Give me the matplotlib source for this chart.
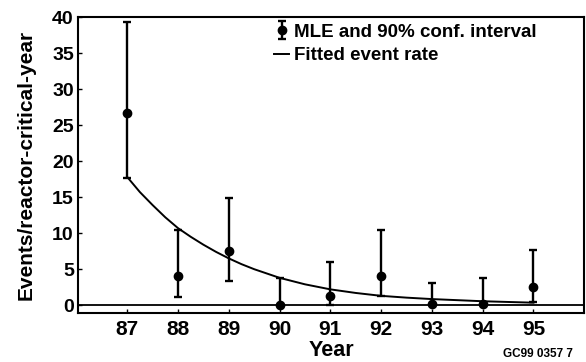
import numpy as np
import matplotlib.pyplot as plt

plt.rcParams['font.family'] = ['Liberation Sans', 'DejaVu Sans']
plt.rcParams['font.weight'] = 'bold'

years = [87, 88, 89, 90, 91, 92, 93, 94, 95]
mle = [26.7, 4.0, 7.5, 0.0, 1.25, 4.0, 0.1, 0.1, 2.5]
upper = [39.3, 10.4, 14.9, 3.75, 6.0, 10.4, 3.1, 3.75, 7.6]
lower = [17.6, 1.1, 3.3, 0.0, 0.0, 1.25, 0.0, 0.0, 0.4]

fit_x = [87, 87.25, 87.5, 87.75, 88, 88.25, 88.5, 88.75, 89, 89.25, 89.5, 89.75,
         90, 90.5, 91, 91.5, 92, 92.5, 93, 93.5, 94, 94.5, 95]
fit_y = [17.8, 15.7, 13.9, 12.2, 10.7, 9.5, 8.4, 7.4, 6.5, 5.7, 5.0, 4.4,
         3.8, 2.9, 2.2, 1.7, 1.3, 1.05, 0.85, 0.7, 0.55, 0.45, 0.35]

fig = plt.figure(figsize=(5.86, 3.62), dpi=100)
ax = fig.add_axes([0.133, 0.135, 0.864, 0.818])

yerr = [np.array(mle) - np.array(lower), np.array(upper) - np.array(mle)]
eb = ax.errorbar(years, mle, yerr=yerr, fmt='o', color='black', ms=6,
                 elinewidth=1.7, capsize=3, capthick=1.7,
                 label='MLE and 90% conf. interval')
fit, = ax.plot(fit_x, fit_y, color='black', lw=1.4, label='Fitted event rate')
ax.axhline(0, color='black', lw=1.3)

ax.set_xlim(86.03, 96.0)
ax.set_ylim(-1.1, 40)
ax.set_xticks(years)
ax.set_yticks(range(0, 41, 5))
ax.tick_params(direction='in', length=3, width=1)
ax.tick_params(axis='y', labelsize=14, pad=3)
ax.tick_params(axis='x', labelsize=15, pad=5)
for s in ax.spines.values():
    s.set_linewidth(1.5)

ax.set_ylabel('Events/reactor-critical-year', fontsize=15, fontweight='bold', labelpad=12)
ax.set_xlabel('Year', fontsize=15.5, fontweight='bold', labelpad=1)

ax.legend(handles=[eb, fit], loc='upper left', bbox_to_anchor=(0.468, 0.935),
          bbox_transform=fig.transFigure, frameon=False, fontsize=13.5,
          handlelength=0.8, handletextpad=0.25, labelspacing=0.35,
          borderaxespad=0, borderpad=0)

fig.text(0.858, 0.015, 'GC99 0357 7', fontsize=8.5, fontweight='bold')

fig.savefig('out.png', dpi=100)
